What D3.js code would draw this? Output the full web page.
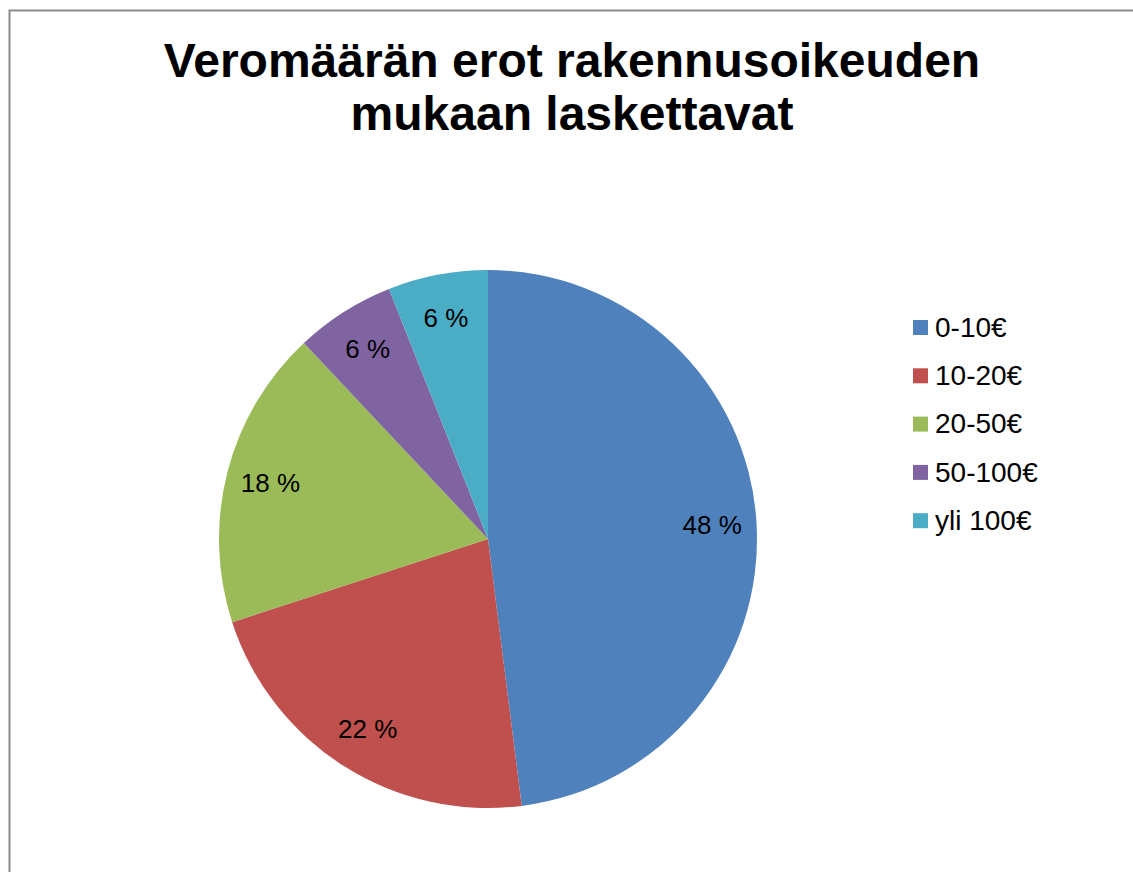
<!DOCTYPE html>
<html>
<head>
<meta charset="utf-8">
<script src="https://cdnjs.cloudflare.com/ajax/libs/d3/7.8.5/d3.min.js"></script>
<style>
  body { margin: 0; background: white; overflow: hidden; }
</style>
</head>
<body>
<div id="svg-container"></div>
<script>
// Data
var categories = ['0-10€', '10-20€', '20-50€', '50-100€', 'yli 100€'];
var values = [48, 22, 18, 6, 6];
var colors = ['#4F81BD', '#C0504D', '#9BBB59', '#8064A2', '#4BACC6'];
var titleLines = ['Veromäärän erot rakennusoikeuden', 'mukaan laskettavat'];

// Build
var w = 1133;
var h = 872;
var cx = 488;
var cy = 539;
var radius = 269;

var svg = d3.select('#svg-container')
  .append('svg')
  .attr('width', w)
  .attr('height', h)
  .style('display', 'block')
  .style('background', 'white');

// chart area border (only left and top are in view)
svg.append('rect')
  .attr('x', 9.5)
  .attr('y', 10.5)
  .attr('width', 1300)
  .attr('height', 1000)
  .style('fill', 'none')
  .style('stroke', '#8c8c8c')
  .style('stroke-width', 2);

svg.append('g')
  .selectAll('text')
  .data(titleLines)
  .enter()
  .append('text')
  .attr('x', 572)
  .attr('y', function(d, i) { return 77 + i * 53; })
  .attr('text-anchor', 'middle')
  .attr('font-family', 'Liberation Sans, Arial, sans-serif')
  .attr('font-weight', 'bold')
  .attr('font-size', '48px')
  .style('fill', 'black')
  .text(function(d) { return d; });

var pie = d3.pie().sort(null).value(function(d) { return d; });
var arcs = pie(values);

var arc = d3.arc().innerRadius(0).outerRadius(radius);
var labelArc = d3.arc().innerRadius(radius * 0.835).outerRadius(radius * 0.835);

var group = svg.append('g')
  .attr('transform', 'translate(' + cx + ',' + cy + ')');

group.selectAll('path')
  .data(arcs)
  .enter()
  .append('path')
  .attr('d', arc)
  .style('fill', function(d, i) { return colors[i]; });

group.selectAll('text')
  .data(arcs)
  .enter()
  .append('text')
  .attr('transform', function(d) { return 'translate(' + labelArc.centroid(d) + ')'; })
  .attr('text-anchor', 'middle')
  .attr('dy', '0.35em')
  .attr('font-family', 'Liberation Sans, Arial, sans-serif')
  .attr('font-size', '26px')
  .style('fill', 'black')
  .text(function(d) { return d.data + ' %'; });

// Legend
var legend = svg.append('g')
  .attr('transform', 'translate(913,327)');

var item = legend.selectAll('g')
  .data(categories)
  .enter()
  .append('g')
  .attr('transform', function(d, i) { return 'translate(0,' + (i * 48.3) + ')'; });

item.append('rect')
  .attr('x', 0)
  .attr('y', -7)
  .attr('width', 15)
  .attr('height', 15)
  .style('fill', function(d, i) { return colors[i]; });

item.append('text')
  .attr('x', 22)
  .attr('y', 0)
  .attr('dy', '0.35em')
  .attr('font-family', 'Liberation Sans, Arial, sans-serif')
  .attr('font-size', '28px')
  .style('fill', 'black')
  .text(function(d) { return d; });
</script>
</body>
</html>
